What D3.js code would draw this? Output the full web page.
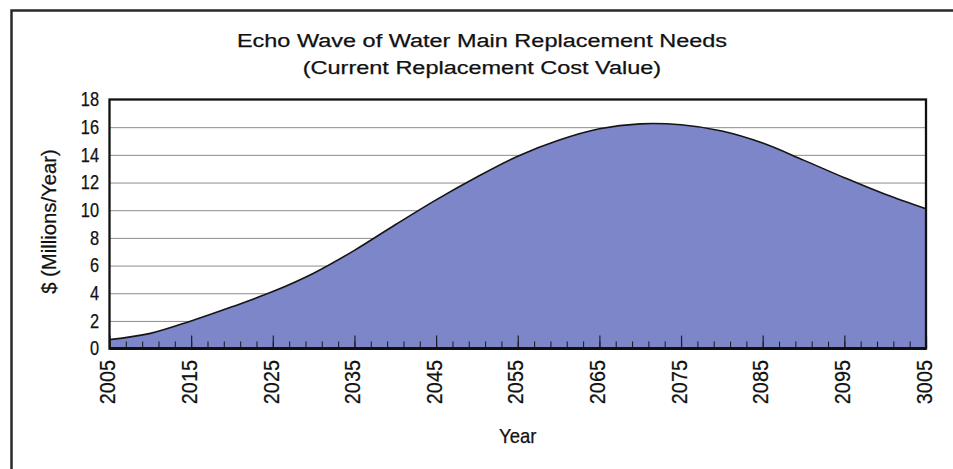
<!DOCTYPE html>
<html>
<head>
<meta charset="utf-8">
<script src="https://cdn.jsdelivr.net/npm/d3@7"></script>
<style>
  html, body { margin: 0; padding: 0; background: #fff; }
  svg { display: block; font-family: "Liberation Sans", Arial, Helvetica, sans-serif; }
  svg text { stroke: #111; stroke-width: 0.25px; }
</style>
</head>
<body>
<svg id="chart" width="953" height="469"></svg>
<script>
// Annual replacement need, $ millions per year
const years = [2005, 2010, 2015, 2020, 2025, 2030, 2035, 2040, 2045, 2050, 2055,
               2060, 2065, 2070, 2075, 2080, 2085, 2090, 2095, 2100, 2105];
const values = [0.65, 1.1, 2.0, 3.02, 4.12, 5.45, 7.1, 8.95, 10.75, 12.4, 13.9,
                15.05, 15.88, 16.24, 16.17, 15.72, 14.85, 13.62, 12.35, 11.15, 10.1];

const yTicks = [0, 2, 4, 6, 8, 10, 12, 14, 16, 18];
const xTickYears = [2005, 2015, 2025, 2035, 2045, 2055, 2065, 2075, 2085, 2095, 2105];
const xTickLabels = ["2005", "2015", "2025", "2035", "2045", "2055", "2065", "2075", "2085", "2095", "3005"];
const minorTickYears = d3.range(2005, 2106, 2);

const titleLines = ["Echo Wave of Water Main Replacement Needs", "(Current Replacement Cost Value)"];
const yLabel = "$ (Millions/Year)";
const xLabel = "Year";

const svg = d3.select("#chart");
const plotLeft = 109.5, plotRight = 926, plotTop = 99.5, plotBottom = 348.6;

const x = d3.scaleLinear().domain([2005, 2105]).range([plotLeft, plotRight]);
const y = d3.scaleLinear().domain([0, 18]).range([plotBottom, plotTop]);

// squeeze or stretch a text element to a given width factor
function fit(sel, factor) {
  sel.each(function () {
    const len = this.getComputedTextLength();
    d3.select(this).attr("textLength", len * factor).attr("lengthAdjust", "spacingAndGlyphs");
  });
}

// outer frame
svg.append("rect")
  .attr("x", 11.5).attr("y", 10.5).attr("width", 990).attr("height", 520)
  .attr("fill", "none").attr("stroke", "#2a2a2a").attr("stroke-width", 2.5);

// title
const title = svg.append("g").attr("fill", "#111");
title.append("text").attr("x", 482).attr("y", 46.5).attr("text-anchor", "middle")
  .attr("font-size", 18.8).text(titleLines[0]).call(fit, 1.25);
title.append("text").attr("x", 482).attr("y", 74).attr("text-anchor", "middle")
  .attr("font-size", 18.8).text(titleLines[1]).call(fit, 1.25);

// horizontal gridlines
svg.append("g")
  .attr("transform", `translate(${plotLeft},0)`)
  .call(d3.axisLeft(y).tickValues(yTicks.filter(v => v > 0 && v < 18)).tickSize(-(plotRight - plotLeft)).tickFormat(""))
  .call(g => g.select(".domain").remove())
  .call(g => g.selectAll("line").attr("stroke", "#8c8c8c").attr("stroke-width", 1));

// filled wave
const curve = d3.curveCatmullRom.alpha(0.5);
const area = d3.area()
  .x((d, i) => x(years[i]))
  .y0(y(0))
  .y1(d => y(d))
  .curve(curve);
const line = d3.line()
  .x((d, i) => x(years[i]))
  .y(d => y(d))
  .curve(curve);

svg.append("path").datum(values).attr("d", area).attr("fill", "#7d86c8");
svg.append("path").datum(values).attr("d", line)
  .attr("fill", "none").attr("stroke", "#151515").attr("stroke-width", 1.6);

// minor and major ticks rising from the baseline
svg.append("g")
  .attr("transform", `translate(0,${plotBottom})`)
  .call(d3.axisBottom(x).tickValues(minorTickYears).tickSize(-7).tickFormat(""))
  .call(g => g.select(".domain").remove())
  .call(g => g.selectAll("line").attr("stroke", "#1e1e2a").attr("stroke-width", 1.1));
svg.append("g")
  .attr("transform", `translate(0,${plotBottom})`)
  .call(d3.axisBottom(x).tickValues(xTickYears).tickSize(-13).tickFormat(""))
  .call(g => g.select(".domain").remove())
  .call(g => g.selectAll("line").attr("stroke", "#1e1e2a").attr("stroke-width", 1.2));

// plot border
svg.append("rect")
  .attr("x", plotLeft).attr("y", plotTop).attr("width", plotRight - plotLeft).attr("height", plotBottom - plotTop)
  .attr("fill", "none").attr("stroke", "#111").attr("stroke-width", 2.3);
svg.append("line")
  .attr("x1", plotLeft).attr("x2", plotRight).attr("y1", plotBottom).attr("y2", plotBottom)
  .attr("stroke", "#111").attr("stroke-width", 3);

// y axis labels
svg.append("g")
  .attr("transform", `translate(${plotLeft},0)`)
  .call(d3.axisLeft(y).tickValues(yTicks).tickSize(0).tickPadding(10.5))
  .call(g => g.select(".domain").remove())
  .call(g => g.selectAll("text")
    .attr("font-size", 19.5).attr("fill", "#111")
    .call(fit, 0.84));

// x axis labels, rotated
svg.append("g")
  .attr("transform", `translate(0,${plotBottom})`)
  .call(d3.axisBottom(x).tickValues(xTickYears).tickSize(0).tickFormat((d, i) => xTickLabels[i]))
  .call(g => g.select(".domain").remove())
  .call(g => g.selectAll("text")
    .attr("font-size", 22.5).attr("fill", "#111")
    .attr("text-anchor", "end").attr("dy", null).attr("y", 0).attr("x", 0)
    .attr("dominant-baseline", "central")
    .attr("transform", "translate(-2.3,11.5) rotate(-90)")
    .call(fit, 0.88));

// axis titles
svg.append("text")
  .attr("transform", "translate(49,221.5) rotate(-90)")
  .attr("text-anchor", "middle").attr("dominant-baseline", "central")
  .attr("font-size", 20.3).attr("fill", "#111")
  .text(yLabel).call(fit, 1.0);
svg.append("text")
  .attr("x", (plotLeft + plotRight) / 2).attr("y", 443)
  .attr("text-anchor", "middle")
  .attr("font-size", 21).attr("fill", "#111")
  .text(xLabel).call(fit, 0.88);
</script>
</body>
</html>
